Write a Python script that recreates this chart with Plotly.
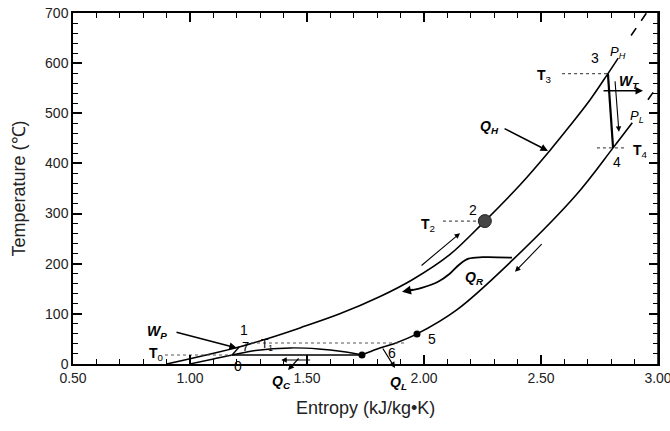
import plotly.graph_objects as go

# ---- data (entropy kJ/kg·K, temperature °C) ----
hp_s = [0.90, 1.21, 1.34, 1.47, 1.64, 1.81, 1.95, 2.11, 2.26, 2.41, 2.54, 2.62, 2.71, 2.786, 2.83]
hp_T = [0, 34, 52, 72, 100, 134, 168, 218, 285, 357, 427, 473, 527, 579, 610]
hp_dash_s = [2.885, 2.955]
hp_dash_T = [655, 703]

lp_s = [1.735, 1.80, 1.88, 1.97, 2.14, 2.38, 2.65, 2.808, 2.89]
lp_T = [18, 30, 42, 60, 108, 208, 337, 431, 481]
lp_dash_s = [2.957, 2.996]
lp_dash_T = [527, 553]

dome_s = [1.00, 1.10, 1.18, 1.28, 1.43, 1.55, 1.65, 1.735]
dome_T = [0, 10, 18, 27, 32, 30, 25, 18]

cond_s = [1.18, 1.735]
cond_T = [18, 18]
pump_s = [1.18, 1.21]
pump_T = [18, 34]
turb_s = [2.786, 2.808]
turb_T = [579, 431]

qr_s = [2.376, 2.25, 2.19, 2.15, 2.11, 2.06, 1.99, 1.93]
qr_T = [212, 213, 210, 198, 180, 164, 152, 146]

# isotherm markers (dashed) : [s_start, s_end, T]
T0 = [0.893, 1.18, 18]
T1 = [1.235, 1.92, 42]
T2 = [2.081, 2.26, 285]
T3 = [2.59, 2.786, 579]
T4 = [2.739, 2.859, 431]

x_ticks = [0.5, 1.0, 1.5, 2.0, 2.5, 3.0]
y_ticks = [0, 100, 200, 300, 400, 500, 600, 700]
Y_MAX = 700

fig = go.Figure()


def line(s, T, dash="solid", width=1.6, shape="spline", color="black"):
    fig.add_trace(go.Scatter(x=s, y=T, mode="lines",
                             line=dict(color=color, width=width, dash=dash, shape=shape),
                             hoverinfo="skip", showlegend=False))


line(hp_s, hp_T)
line(hp_dash_s, hp_dash_T, dash="dash", shape="linear")
line(lp_s, lp_T)
line(lp_dash_s, lp_dash_T, dash="dash", shape="linear")
line(dome_s, dome_T, width=1.4)
line(cond_s, cond_T, width=1.4, shape="linear")
line(pump_s, pump_T, width=1.4, shape="linear")
line(turb_s, turb_T, width=2.2, shape="linear")
line(qr_s, qr_T, width=1.8)
for iso in (T0, T1, T2, T3, T4):
    line(iso[:2], [iso[2], iso[2]], dash="dot", width=1.1, shape="linear", color="#555")

# points
fig.add_trace(go.Scatter(x=[2.26], y=[285], mode="markers",
                         marker=dict(size=13, color="#444", line=dict(color="#222", width=1)),
                         hoverinfo="skip", showlegend=False))
fig.add_trace(go.Scatter(x=[1.97, 1.735], y=[60, 18], mode="markers",
                         marker=dict(size=7, color="black"),
                         hoverinfo="skip", showlegend=False))

ann = []


def arrow(tail, tip, width=1.5, head=2, size=1.0):
    ann.append(dict(x=tip[0], y=tip[1] / Y_MAX, ax=tail[0], ay=tail[1] / Y_MAX,
                    xref="x", yref="y domain", axref="x", ayref="y domain",
                    showarrow=True, arrowhead=head, arrowsize=size, arrowwidth=width,
                    arrowcolor="black", text=""))


def label(x, y, text, size=14):
    ann.append(dict(x=x, y=y / Y_MAX, xref="x", yref="y domain", text=text, showarrow=False,
                    xanchor="center", yanchor="middle",
                    font=dict(size=size, color="black", family="Liberation Sans")))


arrow((2.338, 471), (2.530, 425))             # Q_H
arrow((1.983, 194), (2.154, 261), width=1.1)  # flow direction near 2
arrow((1.96, 149), (1.906, 144), width=1.8)   # Q_R head
arrow((2.509, 242), (2.389, 184), width=1.1)  # flow direction on P_L
arrow((2.761, 545), (2.936, 545))             # W_T
arrow((2.816, 567), (2.833, 463), width=1.1)  # P_L expansion
arrow((0.936, 64), (1.20, 32))                # W_P
arrow((1.47, 14), (1.419, -12), width=1.2)    # Q_C
arrow((1.52, 8), (1.39, 8), width=1.1)        # condensation direction
arrow((1.82, 34), (1.876, -8), width=1.2)     # Q_L

label(2.28, 472, "<b><i>Q</i></b><sub><b><i>H</i></b></sub>")
label(2.215, 172, "<b><i>Q</i></b><sub><b><i>R</i></b></sub>")
label(2.017, 277, "<b>T</b><sub>2</sub>")
label(2.21, 307, "2")
label(2.517, 575, "<b>T</b><sub>3</sub>")
label(2.731, 611, "3")
label(2.83, 622, "<i>P</i><sub><i>H</i></sub>", size=13)
label(2.875, 563, "<b><i>W</i></b><sub><b><i>T</i></b></sub>")
label(2.91, 494, "<i>P</i><sub><i>L</i></sub>", size=13)
label(2.925, 425, "<b>T</b><sub>4</sub>")
label(2.825, 403, "4")
label(2.034, 50, "5")
label(1.863, 22, "6")
label(1.231, 67, "1")
label(1.236, 35, "7", size=13)
label(1.205, -4, "0")
label(1.33, 38, "T<sub>1</sub>", size=12)
label(0.855, 19, "<b>T</b><sub>0</sub>")
label(0.86, 64, "<b><i>W</i></b><sub><b><i>P</i></b></sub>")
label(1.393, -36, "<b><i>Q</i></b><sub><b><i>C</i></b></sub>")
label(1.889, -38, "<b><i>Q</i></b><sub><b><i>L</i></b></sub>")

# axis titles
ann.append(dict(x=0.5, y=-0.125, xref="paper", yref="paper", showarrow=False,
                xanchor="center", yanchor="middle",
                text="Entropy (kJ/kg•K)", font=dict(size=18, color="#222")))
ann.append(dict(x=-0.094, y=0.5, xref="paper", yref="paper", showarrow=False, textangle=-90,
                xanchor="center", yanchor="middle",
                text="Temperature (℃)", font=dict(size=18, color="#222")))

axis_common = dict(showline=True, linecolor="black", linewidth=1.5, mirror="allticks",
                   ticks="inside", ticklen=9, tickwidth=1.5, tickcolor="black",
                   showgrid=False, zeroline=False, automargin=False,
                   ticklabeloverflow="allow",
                   tickfont=dict(size=14, color="#222", family="Liberation Sans"))

fig.update_layout(
    width=670, height=431,
    margin=dict(l=73, r=12, t=13, b=67),
    paper_bgcolor="white", plot_bgcolor="white",
    font=dict(family="Liberation Sans", color="black"),
    annotations=ann,
    shapes=[dict(type="line", xref="paper", yref="paper", x0=1, x1=1, y0=0, y1=1,
                 line=dict(color="black", width=1.5))],
    xaxis=dict(range=[0.5, 3.0], tickvals=x_ticks, ticktext=[f"{v:.2f}" for v in x_ticks],
               minor=dict(ticks="inside", ticklen=5, tickwidth=1, tickcolor="black", dtick=0.1, tick0=0.5),
               **axis_common),
    yaxis=dict(range=[0, 700], tickvals=y_ticks, ticktext=[str(v) for v in y_ticks],
               minor=dict(ticks="inside", ticklen=5, tickwidth=1, tickcolor="black", dtick=20, tick0=0),
               **axis_common),
)

fig.write_html("out.html", config={"displayModeBar": False},
               post_script="document.documentElement.style.overflow='hidden';"
                           "document.body.style.margin='0';document.body.style.overflow='hidden';")
